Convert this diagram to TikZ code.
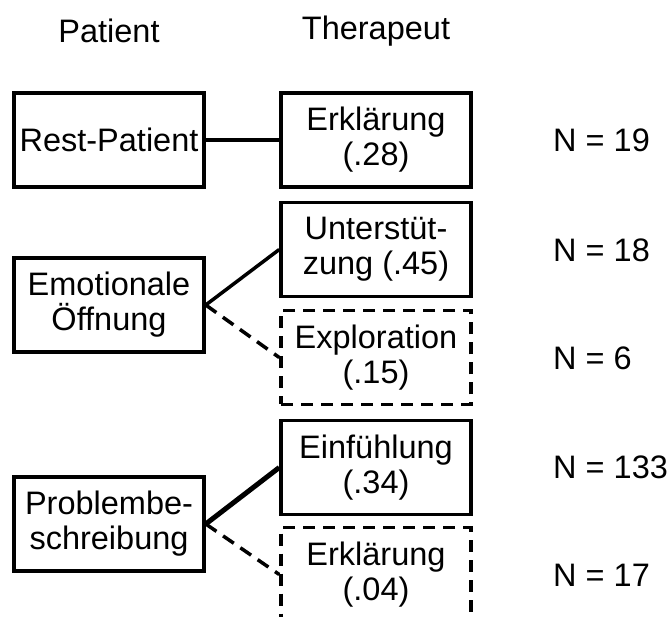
\documentclass[tikz,border=0pt]{standalone}
\usepackage{fontspec}
\setmainfont{Liberation Sans}
\usetikzlibrary{positioning}
\begin{document}
\begin{tikzpicture}
	[x=1pt,y=-1pt,font=\fontsize{32.5}{35}\selectfont,
	box/.style={draw,line width=3.5pt,align=center,inner sep=0pt,minimum width=190pt,minimum height=94pt},
	dbox/.style={box,dash pattern=on 12pt off 8pt},
	link/.style={line width=3.5pt},
	dlink/.style={line width=3.5pt,dash pattern=on 13pt off 8pt},
	count/.style={anchor=west,inner sep=0pt}]
	\useasboundingbox (0,0) rectangle (667,617);
	\node (pat) at (109,31) {Patient};
	\node (ther) at (376,31) {Therapeut};
	\node [box] (rest) at (109,140) {Rest-Patient};
	\node [box] (erk1) at (376,140) {Erklärung\\(.28)};
	\node [box] (emo) at (109,305) {Emotionale\\Öffnung};
	\node [box] (unt) at (376,249.5) {Unterstüt-\\zung (.45)};
	\node [dbox] (expl) at (376,357.5) {Exploration\\(.15)};
	\node [box] (prob) at (109,524) {Problembe-\\schreibung};
	\node [box] (einf) at (376,467.5) {Einfühlung\\(.34)};
	\node [dbox] (erk2) at (376,574.5) {Erklärung\\(.04)};
	\node [count] (n1) at (553,140) {N = 19};
	\node [count] (n2) at (553,250) {N = 18};
	\node [count] (n3) at (553,358) {N = 6};
	\node [count] (n4) at (553,467) {N = 133};
	\node [count] (n5) at (553,575) {N = 17};
	\draw[link] (rest.east) -- (erk1.west);
	\draw[link] (emo.east) -- (unt.west);
	\draw[dlink] (emo.east) -- (expl.west);
	\draw[link,line width=5pt] (prob.east) -- (einf.west);
	\draw[dlink] (prob.east) -- (erk2.west);
\end{tikzpicture}
\end{document}
